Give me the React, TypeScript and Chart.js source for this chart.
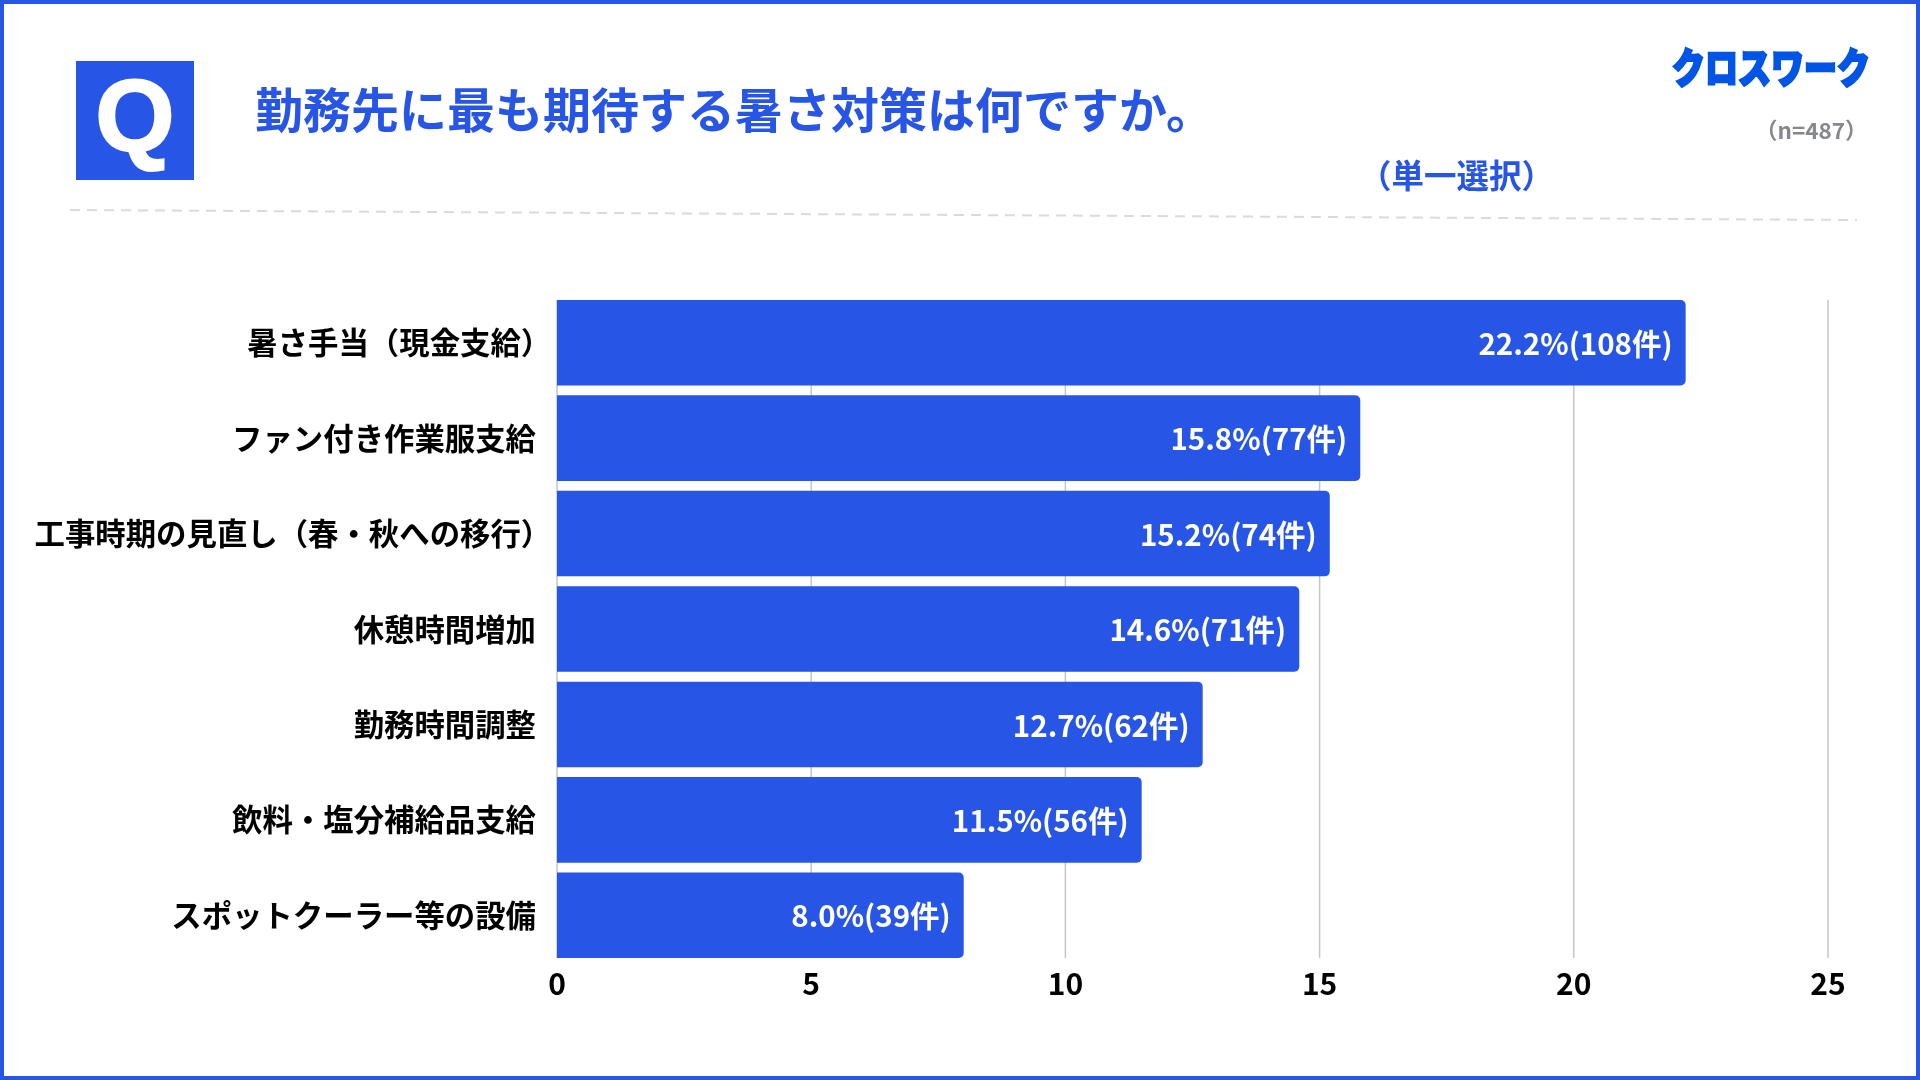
import React, { useEffect, useRef } from "react";
import { Chart, registerables } from "chart.js";

Chart.register(...registerables);

const categories = [
  "暑さ手当（現金支給）",
  "ファン付き作業服支給",
  "工事時期の見直し（春・秋への移行）",
  "休憩時間増加",
  "勤務時間調整",
  "飲料・塩分補給品支給",
  "スポットクーラー等の設備",
];
const percents = [22.2, 15.8, 15.2, 14.6, 12.7, 11.5, 8.0];
const counts = [108, 77, 74, 71, 62, 56, 39];
const xTicks = [0, 5, 10, 15, 20, 25];

const BLUE = "#2755E6";
const FONT = '"Noto Sans CJK JP", "Noto Sans", sans-serif';
const LABEL_SIZE = 30.4;
const LABEL_RIGHT = 536;

const clippedGrid = {
  id: "clippedGrid",
  beforeDatasetsDraw(chart: any) {
    const meta = chart.getDatasetMeta(0).data;
    const top = meta[0].y - meta[0].height / 2;
    const last = meta[meta.length - 1];
    const bottom = last.y + last.height / 2;
    const ctx = chart.ctx;
    ctx.save();
    ctx.strokeStyle = "#C4C6CA";
    ctx.lineWidth = 1.5;
    chart.scales.x.ticks.forEach((t: any) => {
      const x = chart.scales.x.getPixelForValue(t.value);
      ctx.beginPath();
      ctx.moveTo(x, top);
      ctx.lineTo(x, bottom);
      ctx.stroke();
    });
    ctx.restore();
  },
};

// Category labels: the closing full-width bracket has its trailing blank trimmed, as in the reference.
const categoryLabels = {
  id: "categoryLabels",
  afterDraw(chart: any) {
    const ctx = chart.ctx;
    const y = chart.scales.y;
    ctx.save();
    ctx.fillStyle = "#000000";
    ctx.font = `700 ${LABEL_SIZE}px ${FONT}`;
    ctx.textAlign = "right";
    ctx.textBaseline = "middle";
    categories.forEach((label, i) => {
      const trim = label.endsWith("）") ? LABEL_SIZE * 0.5 : 0;
      ctx.fillText(label, LABEL_RIGHT + trim, y.getPixelForValue(i));
    });
    ctx.restore();
  },
};

const barLabels = {
  id: "barLabels",
  afterDatasetsDraw(chart: any) {
    const ctx = chart.ctx;
    ctx.save();
    ctx.fillStyle = "#FFFFFF";
    ctx.font = `700 29.5px ${FONT}`;
    ctx.textAlign = "right";
    ctx.textBaseline = "middle";
    chart.getDatasetMeta(0).data.forEach((bar: any, i: number) => {
      ctx.fillText(`${percents[i].toFixed(1)}%(${counts[i]}件)`, bar.x - 13, bar.y + 1);
    });
    ctx.restore();
  },
};

const text = (
  left: number,
  top: number,
  size: number,
  weight: number,
  color: string,
  extra: React.CSSProperties = {}
): React.CSSProperties => ({
  position: "absolute",
  left,
  top,
  fontSize: size,
  fontWeight: weight,
  color,
  fontFamily: FONT,
  lineHeight: 1,
  whiteSpace: "nowrap",
  ...extra,
});

export default function App() {
  const ref = useRef<HTMLCanvasElement>(null);
  useEffect(() => {
    const chart = new Chart(ref.current as HTMLCanvasElement, {
      type: "bar",
      data: {
        labels: categories,
        datasets: [
          {
            data: percents,
            backgroundColor: BLUE,
            borderRadius: { topLeft: 0, bottomLeft: 0, topRight: 5, bottomRight: 5 },
            borderSkipped: false,
            barPercentage: 1,
            categoryPercentage: 0.897,
          },
        ],
      },
      options: {
        indexAxis: "y",
        responsive: false,
        animation: false,
        layout: { padding: { top: 295, right: 92, bottom: 0, left: 0 } },
        plugins: { legend: { display: false }, tooltip: { enabled: false }, title: { display: false } },
        scales: {
          x: {
            min: 0,
            max: 25,
            afterFit(scale: any) {
              scale.height = 117;
            },
            afterBuildTicks(scale: any) {
              scale.ticks = xTicks.map((value) => ({ value }));
            },
            border: { display: false },
            grid: { display: false, drawTicks: false },
            ticks: {
              color: "#000000",
              font: { family: FONT, size: 30, weight: 700 },
              padding: 3,
              maxRotation: 0,
            },
          },
          y: {
            afterFit(scale: any) {
              scale.width = 557;
            },
            border: { display: false },
            grid: { display: false, drawTicks: false },
            ticks: { display: false },
          },
        },
      },
      plugins: [clippedGrid, barLabels, categoryLabels],
    } as any);
    return () => chart.destroy();
  }, []);

  return (
    <div style={{ position: "fixed", left: 0, top: 0, width: 1920, height: 1080, background: "#fff", overflow: "hidden" }}>
      <canvas ref={ref} width={1920} height={1080} style={{ position: "absolute", left: 0, top: 0, display: "block" }} />
      <div style={{ position: "absolute", inset: 0, border: `4px solid ${BLUE}`, boxSizing: "border-box", pointerEvents: "none" }} />
      <div style={{ position: "absolute", left: 76, top: 61, width: 118, height: 119, background: BLUE, color: "#fff", fontFamily: '"Liberation Sans", sans-serif', fontWeight: 700, fontSize: 102, lineHeight: "110px", textAlign: "center", WebkitTextStroke: "2px #fff" }}>
        Q
      </div>
      <div style={text(255, 83, 48, 700, BLUE)}>勤務先に最も期待する暑さ対策は何ですか。</div>
      <div style={text(1359, 158, 32.5, 700, BLUE)}>（単一選択）</div>
      <div style={text(1672, 50, 33, 900, "#0055E6", { WebkitTextStroke: "2px #0055E6", transform: "scaleY(1.25)", transformOrigin: "center" })}>クロスワーク</div>
      <div style={text(1755, 118, 22.5, 700, "#85878C")}>（n=487）</div>
      <svg width="1920" height="1080" style={{ position: "absolute", left: 0, top: 0, pointerEvents: "none" }}>
        <line x1="70" y1="210" x2="1857" y2="220" stroke="#DADADA" strokeWidth="2" strokeDasharray="10 7" />
      </svg>
    </div>
  );
}
